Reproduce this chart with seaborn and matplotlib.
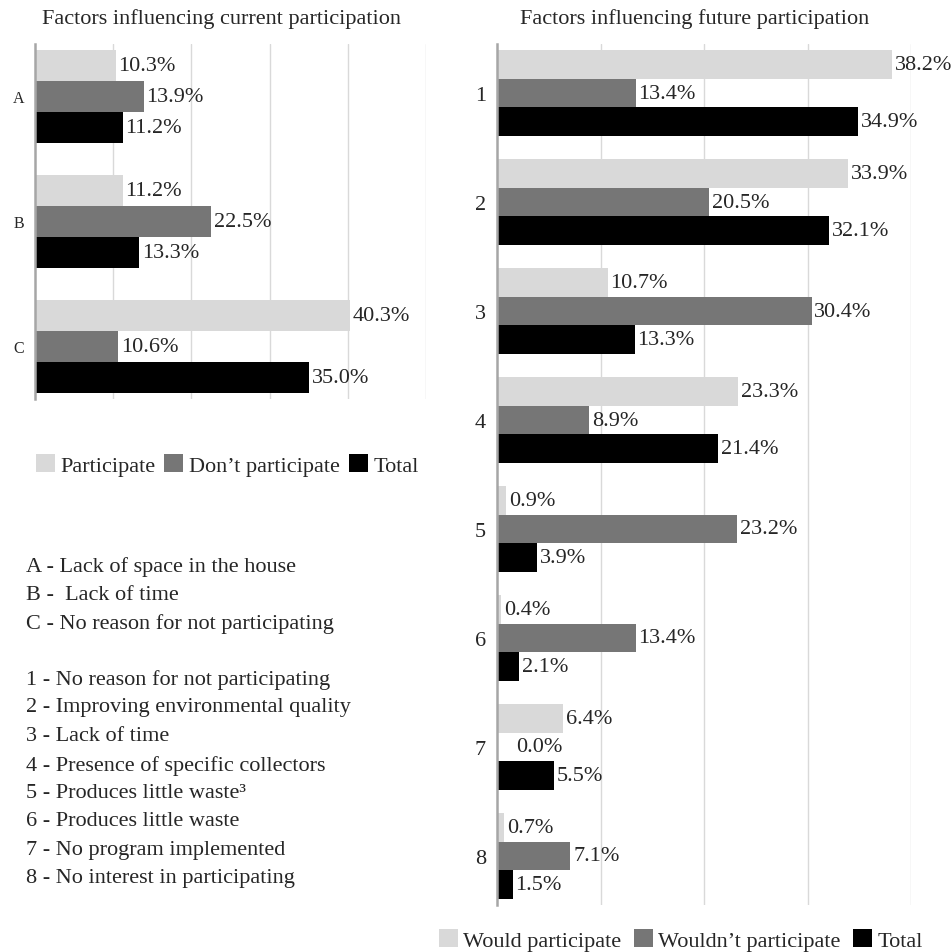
import matplotlib
matplotlib.use("Agg")
import matplotlib.pyplot as plt
import seaborn as sns
import pandas as pd
from matplotlib.patches import Patch

# ---- data ----
current_cats = ["A", "B", "C"]
current_participate = [10.3, 11.2, 40.3]
current_dont = [13.9, 22.5, 10.6]
current_total = [11.2, 13.3, 35.0]
current_series = ["Participate", "Don\u2019t participate", "Total"]

future_cats = ["1", "2", "3", "4", "5", "6", "7", "8"]
future_would = [38.2, 33.9, 10.7, 23.3, 0.9, 0.4, 6.4, 0.7]
future_wouldnt = [13.4, 20.5, 30.4, 8.9, 23.2, 13.4, 0.0, 7.1]
future_total = [34.9, 32.1, 13.3, 21.4, 3.9, 2.1, 5.5, 1.5]
future_series = ["Would participate", "Wouldn\u2019t participate", "Total"]

key_lines = [
    "A - Lack of space in the house",
    "B -  Lack of time",
    "C - No reason for not participating",
    "1 - No reason for not participating",
    "2 - Improving environmental quality",
    "3 - Lack of time",
    "4 - Presence of specific collectors",
    "5 - Produces little waste\u00b3",
    "6 - Produces little waste",
    "7 - No program implemented",
    "8 - No interest in participating",
]

colors = ["#D9D9D9", "#767676", "#000000"]

sns.set_theme(style="white")
plt.rcParams["font.family"] = ["Liberation Serif", "DejaVu Serif"]

def long_df(cats, series_names, series_vals):
    rows = []
    for name, vals in zip(series_names, series_vals):
        for c, v in zip(cats, vals):
            rows.append({"cat": c, "series": name, "value": v})
    return pd.DataFrame(rows)

df_cur = long_df(current_cats, current_series,
                 [current_participate, current_dont, current_total])
df_fut = long_df(future_cats, future_series,
                 [future_would, future_wouldnt, future_total])

W, H = 951, 953
fig = plt.figure(figsize=(W / 100, H / 100), dpi=100)

ax1 = fig.add_axes([35 / W, 1 - 400 / H, 391 / W, 355 / H])
ax2 = fig.add_axes([497 / W, 1 - 906 / H, 414 / W, 861 / H])

def style(ax, df, order, hue_order, width, xmax, ylim, tick_size):
    sns.barplot(data=df, y="cat", x="value", hue="series", order=order,
                hue_order=hue_order, palette=colors, orient="h",
                width=width, ax=ax, legend=False, saturation=1,
                edgecolor="none", linewidth=0)
    ax.set_xlim(0, xmax)
    ax.set_ylim(*ylim)
    ax.set_xlabel("")
    ax.set_ylabel("")
    ax.set_xticks(range(10, xmax + 1, 10))
    ax.set_xticklabels([])
    ax.grid(axis="x", color="#D9D9D9", linewidth=1)
    ax.grid(axis="y", visible=False)
    ax.set_axisbelow(True)
    for s in ["top", "right", "bottom"]:
        ax.spines[s].set_visible(False)
    ax.spines["left"].set_color("#A6A6A6")
    ax.spines["left"].set_linewidth(1.8)
    ax.tick_params(axis="y", length=0, pad=8, labelsize=tick_size)
    ax.tick_params(axis="x", length=0)
    for cont in ax.containers:
        labels = ax.bar_label(cont, fmt="%.1f%%", padding=2, fontsize=16)
        for lab, val in zip(labels, cont.datavalues):
            if val == 0:
                lab.xyann = (14, 0)

style(ax1, df_cur, current_cats, current_series, 0.74, 50, (2.42, -0.42), 11.5)
style(ax2, df_fut, future_cats, future_series, 0.79, 40, (7.45, -0.45), 16)

fig.text(221 / W, 1 - 19 / H, "Factors influencing current participation",
         ha="center", va="center", fontsize=16)
fig.text(695 / W, 1 - 19 / H, "Factors influencing future participation",
         ha="center", va="center", fontsize=16)

h1 = [Patch(facecolor=c, edgecolor="none") for c in colors]
fig.legend(h1, current_series, loc="center left",
           bbox_to_anchor=(36 / W, 1 - 466 / H), ncol=3, frameon=False,
           fontsize=16, handlelength=0.85, handleheight=0.85,
           handletextpad=0.25, columnspacing=0.4, borderaxespad=0,
           borderpad=0)
fig.legend(h1, future_series, loc="center left",
           bbox_to_anchor=(439 / W, 1 - 941 / H), ncol=3, frameon=False,
           fontsize=16, handlelength=0.85, handleheight=0.85,
           handletextpad=0.25, columnspacing=0.55, borderaxespad=0,
           borderpad=0)

key_y = [567, 595, 624, 680, 708, 737, 766, 794, 822, 851, 879]
for txt, y in zip(key_lines, key_y):
    fig.text(26 / W, 1 - y / H, txt, ha="left", va="center", fontsize=16)

fig.savefig("out.png", dpi=100)
